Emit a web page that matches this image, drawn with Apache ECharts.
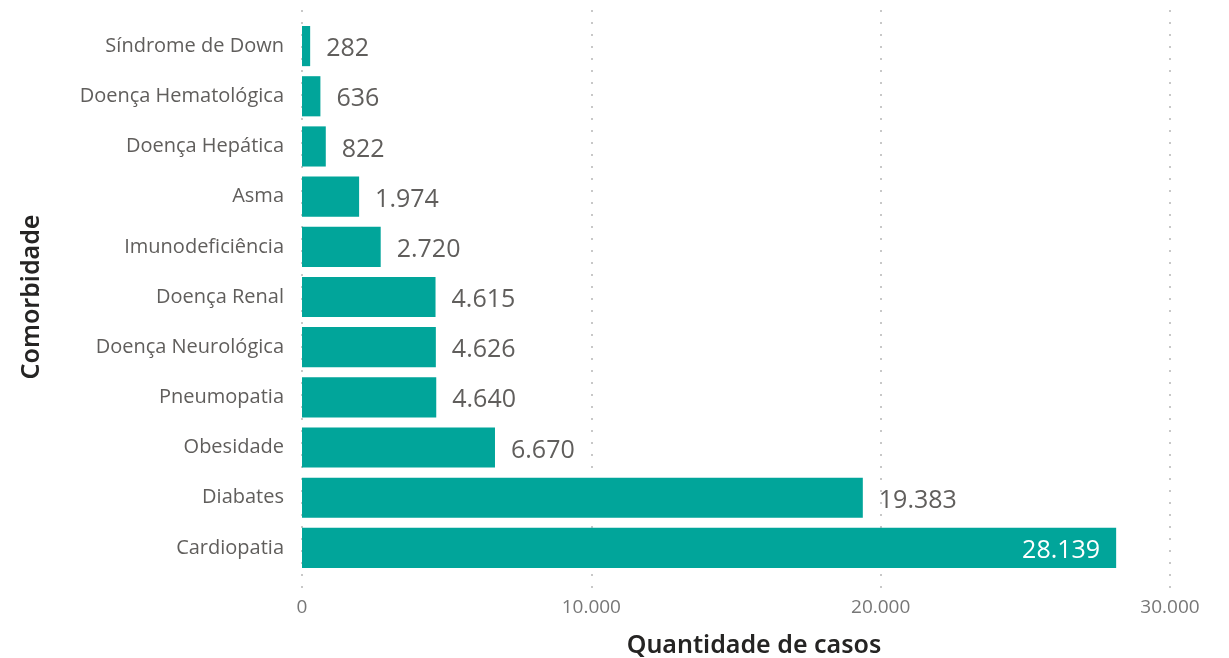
<!DOCTYPE html>
<html>
<head>
<meta charset="utf-8">
<script src="https://cdn.jsdelivr.net/npm/echarts@6/dist/echarts.min.js"></script>
<style>
  html, body { margin: 0; padding: 0; background: #fff; }
  #chart { width: 1229px; height: 658px; }
</style>
</head>
<body>
<div id="chart"></div>
<script>
var categories = ['Cardiopatia', 'Diabates', 'Obesidade', 'Pneumopatia', 'Doença Neurológica',
    'Doença Renal', 'Imunodeficiência', 'Asma', 'Doença Hepática', 'Doença Hematológica', 'Síndrome de Down'];
var casos = [28139, 19383, 6670, 4640, 4626, 4615, 2720, 1974, 822, 636, 282];
var xTicks = [0, 10000, 20000, 30000];

function fmt(v) {
    return String(v).replace(/\B(?=(\d{3})+(?!\d))/g, '.');
}

var chart = echarts.init(document.getElementById('chart'));

var barData = casos.map(function (v, i) {
    var item = { value: v };
    if (i === 0) {
        item.label = { position: 'insideRight', color: '#ffffff', distance: 16 };
    }
    return item;
});

chart.setOption({
    animation: false,
    textStyle: { fontFamily: 'Open Sans' },
    grid: [
        { left: 302, right: 59, top: 21, bottom: 85, outerBoundsMode: 'none', containLabel: false },
        // taller grid, only for the dotted gridlines which run past the bars
        { left: 302, right: 59, top: 10, bottom: 70, outerBoundsMode: 'none', containLabel: false, z: 0 }
    ],
    xAxis: [{
        type: 'value',
        gridIndex: 0,
        min: 0,
        max: 30000,
        interval: 10000,
        name: 'Quantidade de casos',
        nameLocation: 'middle',
        nameGap: 60,
        nameTextStyle: { fontSize: 25, fontWeight: 600, color: '#252423', fontFamily: 'Noto Sans', padding: [0, 0, 0, 36] },
        axisLine: { show: false },
        axisTick: { show: false },
        axisLabel: {
            color: '#777777', fontSize: 19, margin: 25,
            formatter: function (v) { return xTicks.indexOf(v) >= 0 ? fmt(v) : ''; }
        },
        splitLine: { show: false }
    }, {
        type: 'value',
        gridIndex: 1,
        min: 0,
        max: 30000,
        interval: 10000,
        axisLine: { show: false },
        axisTick: { show: false },
        axisLabel: { show: false },
        splitLine: { show: true, lineStyle: { color: '#c8c8c8', type: [2, 10], width: 2 } }
    }],
    yAxis: [{
        type: 'category',
        gridIndex: 0,
        data: categories,
        name: 'Comorbidade',
        nameLocation: 'middle',
        nameGap: 258,
        nameTextStyle: { fontSize: 25, fontWeight: 600, color: '#252423', fontFamily: 'Noto Sans' },
        axisLine: { show: false },
        axisTick: { show: false },
        axisLabel: { color: '#605e5c', fontSize: 20, margin: 18 }
    }, {
        type: 'value',
        gridIndex: 1,
        show: false
    }],
    series: [{
        type: 'bar',
        xAxisIndex: 0,
        yAxisIndex: 0,
        data: barData,
        barCategoryGap: '20%',
        itemStyle: { color: '#01a59a' },
        label: {
            show: true,
            position: 'right',
            distance: 16,
            offset: [0, 3],
            color: '#605e5c',
            fontSize: 25,
            formatter: function (p) { return fmt(p.value); }
        }
    }]
});
</script>
</body>
</html>
